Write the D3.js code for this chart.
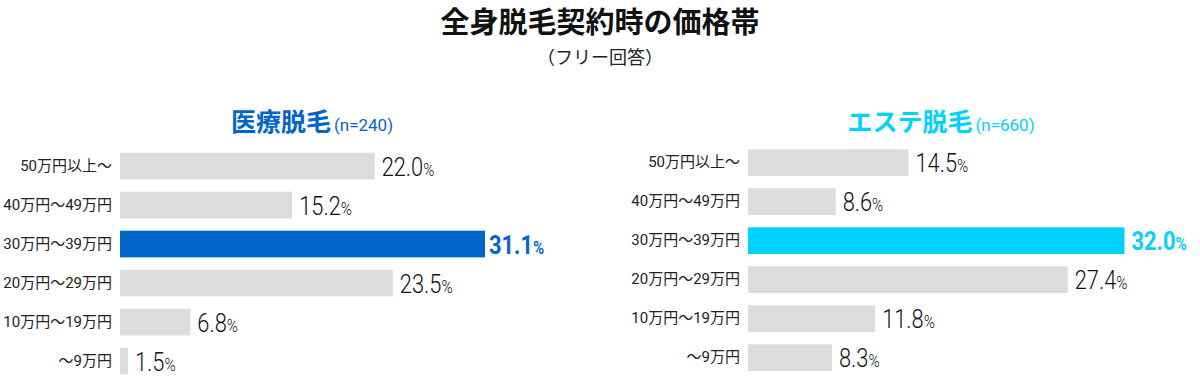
<!DOCTYPE html>
<html>
<head>
<meta charset="utf-8">
<script src="https://cdn.jsdelivr.net/npm/d3@7"></script>
<style>
  body { margin: 0; background: #fff; }
  svg { display: block; }
  .num { font-family: "Roboto", "Liberation Sans", sans-serif; }
  .jp { font-family: "Noto Sans CJK JP", sans-serif; }
  .cat { font-family: "Liberation Sans Narrow", "Roboto", "Noto Sans CJK JP", sans-serif; }
</style>
</head>
<body>
<svg id="vis" width="1200" height="380"></svg>
<script>
// data
const categories = ["50万円以上～", "40万円～49万円", "30万円～39万円", "20万円～29万円", "10万円～19万円", "～9万円"];
const medicalValues = [22.0, 15.2, 31.1, 23.5, 6.8, 1.5];
const estheValues = [14.5, 8.6, 32.0, 27.4, 11.8, 8.3];
const highlightCategory = "30万円～39万円";
const chartTitle = "全身脱毛契約時の価格帯";
const chartSubtitle = "（フリー回答）";

// layout per panel (scale domains start a bit above zero like the original)
const panels = [
  {name: "医療脱毛", n: "(n=240)", values: medicalValues, color: "#0066cc",
   left: 120, right: 485, domain: [1.0, 31.1], top: 152.7, titleX: 312, titleY: 131, hiGap: 4},
  {name: "エステ脱毛", n: "(n=660)", values: estheValues, color: "#00d2ff",
   left: 748, right: 1124.5, domain: [1.5, 32.0], top: 149.3, titleX: 941, titleY: 131, hiGap: 7}
];
const STEP = 39;
const BAR_H = 26.7;
const NUM_SQUEEZE = 0.84;   // numbers in the original are a condensed face

const svg = d3.select("#vis");

// main title
svg.append("text")
  .attr("class", "jp")
  .attr("x", 600).attr("y", 33)
  .attr("text-anchor", "middle")
  .style("font-size", "29px").style("font-weight", "bold")
  .style("fill", "#111")
  .text(chartTitle);
svg.append("text")
  .attr("class", "jp")
  .attr("x", 600).attr("y", 64)
  .attr("text-anchor", "middle")
  .style("font-size", "18px")
  .style("fill", "#222")
  .text(chartSubtitle);

panels.forEach(function(p){
  const g = svg.append("g");

  const x = d3.scaleLinear().domain(p.domain).range([p.left, p.right]);
  const y = d3.scaleBand()
    .domain(categories)
    .range([p.top, p.top + (categories.length - 1) * STEP + BAR_H])
    .paddingInner(1 - BAR_H / STEP);

  // panel title
  const t = g.append("text")
    .attr("class", "jp")
    .attr("x", p.titleX).attr("y", p.titleY)
    .attr("text-anchor", "middle")
    .style("fill", p.color);
  t.append("tspan").style("font-size", "25px").style("font-weight", "bold").text(p.name);
  t.append("tspan").attr("class", "num").attr("dx", 3).style("font-size", "17px").text(p.n);

  // category axis
  const axis = d3.axisLeft(y).tickSize(0).tickPadding(8);
  const ax = g.append("g")
    .attr("transform", `translate(${p.left}, 0)`)
    .call(axis);
  ax.select(".domain").remove();
  ax.selectAll("text")
    .attr("class", "cat")
    .style("font-size", "15px")
    .style("fill", "#222");

  const rows = categories.map(function(c, i){ return {cat: c, value: p.values[i]}; });

  g.selectAll("rect")
    .data(rows)
    .enter()
    .append("rect")
    .attr("x", p.left)
    .attr("y", d => y(d.cat))
    .attr("width", d => Math.max(8, x(d.value) - p.left))
    .attr("height", y.bandwidth())
    .style("fill", d => d.cat === highlightCategory ? p.color : "#dcdcdc");

  const labels = g.selectAll("text.val")
    .data(rows)
    .enter()
    .append("text")
    .attr("class", "val num")
    .attr("transform", function(d){
      const lx = Math.max(x(d.value), p.left + 8) + (d.cat === highlightCategory ? p.hiGap : 7);
      const ly = y(d.cat) + y.bandwidth() / 2 + 9.5;
      return `translate(${lx},${ly}) scale(${NUM_SQUEEZE},1)`;
    })
    .style("fill", d => d.cat === highlightCategory ? p.color : "#111")
    .style("font-weight", d => d.cat === highlightCategory ? "bold" : "300");
  labels.append("tspan").style("font-size", "26px").text(d => d.value.toFixed(1));
  labels.append("tspan").style("font-size", "18px").text("%");
});
</script>
</body>
</html>
